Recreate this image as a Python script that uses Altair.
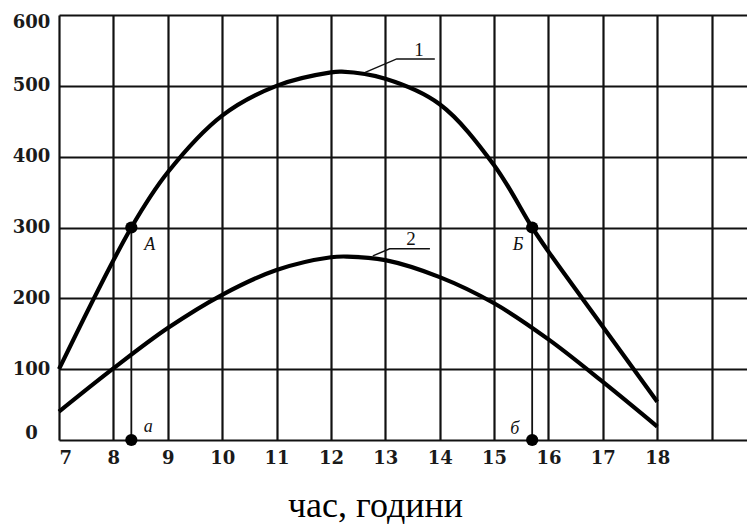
import altair as alt
import pandas as pd

# curve 1
c1_x = [7, 8.33, 9, 10, 11, 12, 12.2, 13, 14, 15, 15.7, 16, 17, 18]
c1_y = [100, 300, 378, 458, 500, 519, 520, 510, 474, 388, 300, 266, 160, 54]
# curve 2
c2_x = [7, 8, 9, 10, 11, 12, 12.3, 13, 14, 15, 16, 17, 18]
c2_y = [40, 101, 158, 205, 240, 258, 259, 254, 230, 193, 142, 82, 19]

# marked points
pt_x = [8.33, 15.7, 8.33, 15.7]
pt_y = [300, 300, 0, 0]

# vertical drop lines
drop_x = [8.33, 15.7]
drop_bottom = [0, 0]
drop_top = [300, 300]

# letters near the points
lab_text = ["А", "Б", "а", "б"]
lab_x = [8.67, 15.44, 8.64, 15.38]
lab_y = [276, 276, 18, 16]

# curve numbers and leaders
num_text = ["1", "2"]
num_x = [13.62, 13.47]
num_y = [551, 284]
lead_id = ["1", "1", "1", "2", "2", "2"]
lead_order = [0, 1, 2, 0, 1, 2]
lead_x = [12.63, 13.21, 13.91, 12.77, 13.08, 13.82]
lead_y = [519, 538, 538, 260, 270, 270]

x_ticks = list(range(7, 20))
y_ticks = list(range(0, 601, 100))

curves = pd.DataFrame({
    "x": c1_x + c2_x,
    "y": c1_y + c2_y,
    "c": ["1"] * len(c1_x) + ["2"] * len(c2_x),
})
pts = pd.DataFrame({"x": pt_x, "y": pt_y})
drops = pd.DataFrame({"x": drop_x, "y": drop_bottom, "y2": drop_top})
labs = pd.DataFrame({"t": lab_text, "x": lab_x, "y": lab_y})
nums = pd.DataFrame({"t": num_text, "x": num_x, "y": num_y})
leads = pd.DataFrame({"id": lead_id, "o": lead_order, "x": lead_x, "y": lead_y})

xs = alt.Scale(domain=[7, 19.65], nice=False, zero=False)
ys = alt.Scale(domain=[0, 600], nice=False)

XAX = alt.Axis(
    values=x_ticks, format="d", grid=True, gridColor="#111", gridWidth=2.2,
    domain=False, ticks=False, labelPadding=9, labelFont="DejaVu Serif",
    labelFontSize=18, labelFontWeight="bold", labelColor="#1a1a1a",
    labelExpr="datum.value <= 18 ? datum.label : ''",
    title="час, години", titleFont="Liberation Serif", titleFontSize=36,
    titleFontWeight="normal", titleColor="#000", titleX=316, titleY=76,
    titleAlign="center", titleBaseline="alphabetic",
)
YAX = alt.Axis(
    values=y_ticks, grid=True, gridColor="#111", gridWidth=2.2, domain=False,
    ticks=False, labelAlign="center", labelPadding=28, labelFont="DejaVu Serif",
    labelFontSize=18, labelFontWeight="bold", labelColor="#1a1a1a",
    labelFlush=True, labelFlushOffset=2, title=None,
)

base_x = alt.X("x:Q", scale=xs, axis=XAX)
base_y = alt.Y("y:Q", scale=ys, axis=YAX)

grid_layer = alt.Chart(curves).mark_point(opacity=0).encode(x=base_x, y=base_y)

drop_layer = alt.Chart(drops).mark_rule(color="#111", strokeWidth=1.8).encode(
    x=alt.X("x:Q", scale=xs), y=alt.Y("y:Q", scale=ys), y2="y2:Q"
)

line_layer = alt.Chart(curves).mark_line(
    color="#000", strokeWidth=4.2, interpolate="catmull-rom"
).encode(x=alt.X("x:Q", scale=xs), y=alt.Y("y:Q", scale=ys), detail="c:N")

lead_layer = alt.Chart(leads).mark_line(color="#111", strokeWidth=1.5).encode(
    x=alt.X("x:Q", scale=xs), y=alt.Y("y:Q", scale=ys), detail="id:N", order="o:Q"
)

pt_layer = alt.Chart(pts).mark_circle(color="#000", size=150, opacity=1).encode(
    x=alt.X("x:Q", scale=xs), y=alt.Y("y:Q", scale=ys)
)

lab_layer = alt.Chart(labs).mark_text(
    font="Liberation Serif", fontSize=18, fontStyle="italic", color="#111"
).encode(x=alt.X("x:Q", scale=xs), y=alt.Y("y:Q", scale=ys), text="t:N")

num_layer = alt.Chart(nums).mark_text(
    font="Liberation Serif", fontSize=19, color="#111"
).encode(x=alt.X("x:Q", scale=xs), y=alt.Y("y:Q", scale=ys), text="t:N")

chart = alt.layer(
    grid_layer, drop_layer, line_layer, lead_layer, pt_layer, lab_layer, num_layer
).properties(
    width=688, height=425,
    autosize=alt.AutoSizeParams(type="none"),
    padding={"left": 51, "top": 7, "right": 0, "bottom": 86},
    background="white",
).configure_view(stroke=None)

chart.save("out.html", embed_options={"renderer": "svg", "actions": False})
